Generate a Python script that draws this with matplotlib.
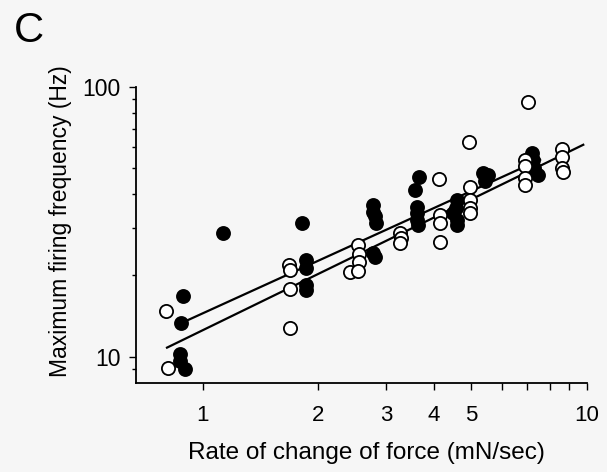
import numpy as np
import matplotlib
matplotlib.use('Agg')
import matplotlib.pyplot as plt
from matplotlib.ticker import FixedLocator, NullFormatter

plt.rcParams['font.family'] = ['Liberation Sans', 'DejaVu Sans']

# filled circles
filled_x = [1.13, 1.81, 1.86, 1.86, 1.86, 1.86, 0.89, 0.88, 0.87, 0.87, 0.90,
            2.78, 2.78, 2.80, 2.82, 2.78, 2.80,
            3.66, 3.56, 3.60, 3.60, 3.60, 3.64,
            4.58, 4.55, 4.48, 4.58, 4.58,
            5.37, 5.53, 5.43,
            7.18, 7.24, 7.30, 7.47]
filled_y = [28.7, 31.4, 22.9, 21.3, 18.5, 17.7, 16.8, 13.3, 10.2, 9.6, 9.0,
            36.5, 34.5, 33.1, 31.3, 24.2, 23.5,
            46.5, 41.6, 36.0, 34.1, 32.2, 30.8,
            38.2, 35.5, 34.1, 32.2, 30.8,
            47.9, 47.3, 44.6,
            57.0, 53.7, 50.0, 47.3]

# open circles
open_x = [0.80, 0.81, 1.68, 1.69, 1.69, 1.69,
          2.54, 2.55, 2.55, 2.41, 2.54,
          3.27, 3.29, 3.26,
          4.12, 4.14, 4.14, 4.14,
          4.92, 4.96, 4.96, 4.96, 4.96,
          7.03, 6.88, 6.88, 6.88, 6.88,
          8.59, 8.59, 8.59, 8.65]
open_y = [14.8, 9.1, 21.8, 21.0, 17.8, 12.8,
          26.0, 24.0, 22.4, 20.6, 20.8,
          28.7, 27.5, 26.3,
          45.5, 33.6, 31.3, 26.7,
          62.2, 42.7, 38.2, 35.5, 34.1,
          88.2, 53.7, 50.7, 45.9, 43.2,
          58.8, 54.8, 50.0, 48.3]

# regression lines (end points)
fit_filled_x = [0.898, 7.55]
fit_filled_y = [13.5, 53.7]
fit_open_x = [0.807, 9.78]
fit_open_y = [10.8, 61.0]

xticks = [1, 2, 3, 4, 5, 6, 7, 8, 9, 10]
xticklabels = ['1', '2', '3', '4', '5', '', '', '', '', '10']

bg = '#f6f6f6'
fig = plt.figure(figsize=(6.07, 4.72), dpi=100, facecolor=bg)
ax = fig.add_axes([0.224, 0.189, 0.743, 0.627], facecolor=bg)

ax.plot(fit_filled_x, fit_filled_y, '-', color='black', lw=1.6, zorder=2)
ax.plot(fit_open_x, fit_open_y, '-', color='black', lw=1.6, zorder=2)
ax.plot(filled_x, filled_y, 'o', ms=9.5, mfc='black', mec='black', mew=1.2, zorder=3)
ax.plot(open_x, open_y, 'o', ms=9.5, mfc='white', mec='black', mew=1.3, zorder=4)

ax.set_xscale('log')
ax.set_yscale('log')
ax.set_xlim(0.67, 10)
ax.set_ylim(8.0, 100)

ax.xaxis.set_major_locator(FixedLocator(xticks))
ax.set_xticklabels(xticklabels)
ax.xaxis.set_minor_locator(FixedLocator([]))
ax.yaxis.set_major_locator(FixedLocator([10, 100]))
ax.set_yticklabels(['10', '100'])
ax.yaxis.set_minor_locator(FixedLocator([9, 20, 30, 40, 50, 60, 70, 80, 90]))
ax.yaxis.set_minor_formatter(NullFormatter())

for s in ['top', 'right']:
    ax.spines[s].set_visible(False)
for s in ['left', 'bottom']:
    ax.spines[s].set_linewidth(1.3)

ax.tick_params(axis='x', which='major', direction='out', length=5, width=1, labelsize=16, pad=11)
ax.tick_params(axis='y', which='major', direction='out', length=5, width=1, labelsize=16.5, pad=6)
ax.tick_params(axis='y', which='minor', direction='out', length=3, width=1)

ax.set_xlabel('Rate of change of force (mN/sec)', fontsize=17.5)
ax.set_ylabel('Maximum firing frequency (Hz)', fontsize=16.5)
ax.xaxis.set_label_coords(0.51, -0.20)
ax.yaxis.set_label_coords(-0.142, 0.547)

fig.text(0.048, 0.935, 'C', fontsize=30, ha='center', va='center')

fig.savefig('out.png', dpi=100, facecolor=bg)
